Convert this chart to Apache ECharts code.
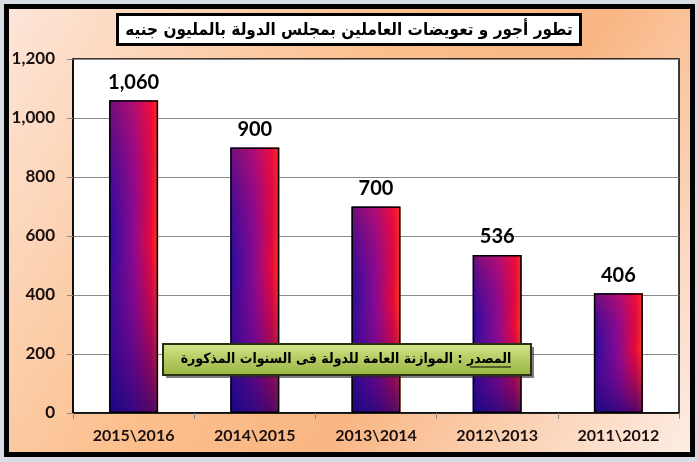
<!DOCTYPE html>
<html>
<head>
<meta charset="utf-8">
<script src="https://cdn.jsdelivr.net/npm/echarts@6/dist/echarts.min.js"></script>
<style>html,body{margin:0;padding:0;background:#d8dde3;}#c{width:698px;height:462px;}</style>
</head>
<body>
<div id="c"></div>
<script>
const categories = ['2015\\2016', '2014\\2015', '2013\\2014', '2012\\2013', '2011\\2012'];
const values = [1060, 900, 700, 536, 406];
const yTicks = [0, 200, 400, 600, 800, 1000, 1200];
const titleText = 'تطور أجور و تعويضات العاملين بمجلس الدولة بالمليون جنيه';
const sourceText = 'المصدر : الموازنة العامة للدولة فى السنوات المذكورة';

const fmt = v => Number(v).toLocaleString('en-US');
const chart = echarts.init(document.getElementById('c'), null, {renderer: 'canvas'});
chart.setOption({
  animation: false,
  backgroundColor: '#d8dde3',
  title: {
    text: titleText,
    left: 'center',
    top: 14,
    backgroundColor: '#ffffff',
    borderColor: '#000',
    borderWidth: 3,
    padding: [8, 8, 6, 8],
    textStyle: {fontFamily: 'DejaVu Sans Condensed', fontWeight: 'bold', fontSize: 17, color: '#000'}
  },
  grid: {left: 73, right: 19, top: 59, bottom: 49, show: true, backgroundColor: '#ffffff', borderColor: '#000', borderWidth: 1.5},
  xAxis: {
    type: 'category', data: categories,
    axisLine: {show: true, lineStyle: {color: '#000', width: 1.5}},
    axisTick: {show: true, length: 6, lineStyle: {color: '#888'}},
    axisLabel: {margin: 15, fontFamily: 'Lato', fontWeight: 'bold', fontSize: 16, color: '#1a1010'}
  },
  yAxis: {
    type: 'value', min: yTicks[0], max: yTicks[yTicks.length - 1], interval: 200,
    axisLine: {show: true, lineStyle: {color: '#000', width: 1.5}},
    axisTick: {show: true, length: 6, lineStyle: {color: '#888'}},
    splitLine: {show: true, lineStyle: {color: '#8a8a8a', width: 1}},
    axisLabel: {margin: 18, formatter: fmt, fontFamily: 'Lato', fontWeight: 'bold', fontSize: 17, color: '#1a1010'}
  },
  graphic: {elements: [
    {type: 'rect', z: -100, shape: {x: 6.5, y: 6.5, width: 686, height: 448},
     style: {lineWidth: 5, stroke: '#000',
       fill: new echarts.graphic.LinearGradient(0, 0, 1, 1, [
         {offset: 0, color: '#fde6da'}, {offset: 0.4, color: '#fbc08e'},
         {offset: 0.62, color: '#f9b684'}, {offset: 1, color: '#fdeee6'}])}},
    {type: 'rect', z: 100, shape: {x: 166, y: 347, width: 368, height: 31}, style: {fill: 'rgba(40,40,40,0.6)'}},
    {type: 'rect', z: 101, shape: {x: 163, y: 344, width: 368, height: 31},
     style: {lineWidth: 2, stroke: '#2a3010',
       fill: new echarts.graphic.LinearGradient(0, 0, 0, 1, [
         {offset: 0, color: '#d6e68e'}, {offset: 0.5, color: '#b4cc62'}, {offset: 1, color: '#98b444'}])}},
    {type: 'text', z: 102, style: {x: 346, y: 359, text: sourceText, textAlign: 'center', textVerticalAlign: 'middle',
      fontFamily: 'DejaVu Sans Condensed', fontWeight: 'bold', fontSize: 14, fill: '#000'}},
    {type: 'line', z: 102, shape: {x1: 470, y1: 367, x2: 511, y2: 367}, style: {stroke: '#000', lineWidth: 1.2}}
  ]},
  series: [
    {
      type: 'bar', data: values, barWidth: 49, z: 2,
      itemStyle: {color: new echarts.graphic.LinearGradient(0, 0, 1, 0, [
        {offset: 0, color: '#2a0c9e'}, {offset: 0.5, color: '#8a0a90'},
        {offset: 0.85, color: '#e8083a'}, {offset: 1, color: '#ff3a1a'}])}
    },
    {
      type: 'bar', data: values, barWidth: 49, barGap: '-100%', z: 3,
      itemStyle: {borderColor: '#000', borderWidth: 1.5,
        color: new echarts.graphic.LinearGradient(0, 0, 0, 1, [
          {offset: 0, color: 'rgba(255,20,60,0.35)'}, {offset: 0.45, color: 'rgba(120,0,140,0)'},
          {offset: 1, color: 'rgba(16,6,120,0.7)'}])},
      label: {show: true, position: 'top', distance: 8, formatter: p => fmt(p.value),
        fontFamily: 'Lato', fontWeight: 'bold', fontSize: 20, color: '#000'}
    }
  ]
});
</script>
</body>
</html>
